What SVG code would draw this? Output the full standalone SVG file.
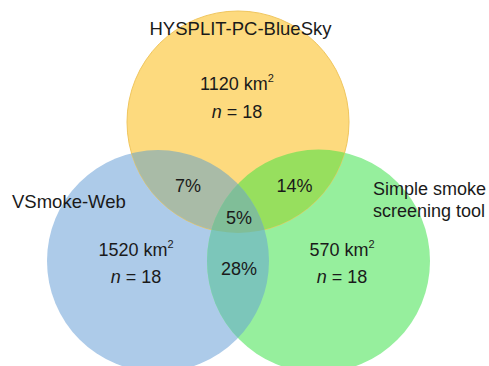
<svg xmlns="http://www.w3.org/2000/svg" width="489" height="366" viewBox="0 0 489 366">
<style>
text{font-family:"Liberation Sans",Arial,Helvetica,sans-serif;font-size:18px;fill:#1a1a1a}
.c{text-anchor:middle}
.sup{font-size:11px}
.it{font-style:italic}
</style>
<defs>
<clipPath id="cY"><circle cx="238" cy="122" r="111"/></clipPath>
<clipPath id="cB"><circle cx="158" cy="261" r="111"/></clipPath>
<clipPath id="cG"><circle cx="318.5" cy="261" r="111.5"/></clipPath>
</defs>
<rect width="489" height="366" fill="#ffffff"/>
<g id="vsmoke">
<circle cx="158" cy="261" r="111" fill="#ADCBE9"/>
</g>
<g id="simple">
<circle cx="318.5" cy="261" r="111.5" fill="#96EF9D"/>
</g>
<g id="hysplit">
<circle cx="238" cy="122" r="111" fill="#FDDA7E" stroke="#F0C65E" stroke-width="1"/>
</g>
<g id="overlaps">
<circle cx="158" cy="261" r="111" fill="#A9BBA7" clip-path="url(#cY)"/>
<circle cx="318.5" cy="261" r="111.5" fill="#97DF5E" clip-path="url(#cY)"/>
<circle cx="318.5" cy="261" r="111.5" fill="#7CC6BA" clip-path="url(#cB)"/>
<g clip-path="url(#cY)"><circle cx="318.5" cy="261" r="111.5" fill="#80BE98" clip-path="url(#cB)"/></g>
</g>
<g id="labels">
<text class="c" x="240.5" y="35" style="font-size:18.5px">HYSPLIT-PC-BlueSky</text>
<text x="12" y="208" style="font-size:18.5px">VSmoke-Web</text>
<text x="373" y="195">Simple smoke</text>
<text x="373" y="217">screening tool</text>
<text class="c" x="237" y="90">1120 km<tspan class="sup" dy="-8">2</tspan></text>
<text class="c" x="237" y="118"><tspan class="it">n</tspan> = 18</text>
<text class="c" x="136" y="256">1520 km<tspan class="sup" dy="-8">2</tspan></text>
<text class="c" x="136" y="283"><tspan class="it">n</tspan> = 18</text>
<text class="c" x="342" y="256">570 km<tspan class="sup" dy="-8">2</tspan></text>
<text class="c" x="342" y="283"><tspan class="it">n</tspan> = 18</text>
<text class="c" x="188" y="192">7%</text>
<text class="c" x="294.5" y="192">14%</text>
<text class="c" x="239" y="224">5%</text>
<text class="c" x="239" y="275">28%</text>
</g>
</svg>
